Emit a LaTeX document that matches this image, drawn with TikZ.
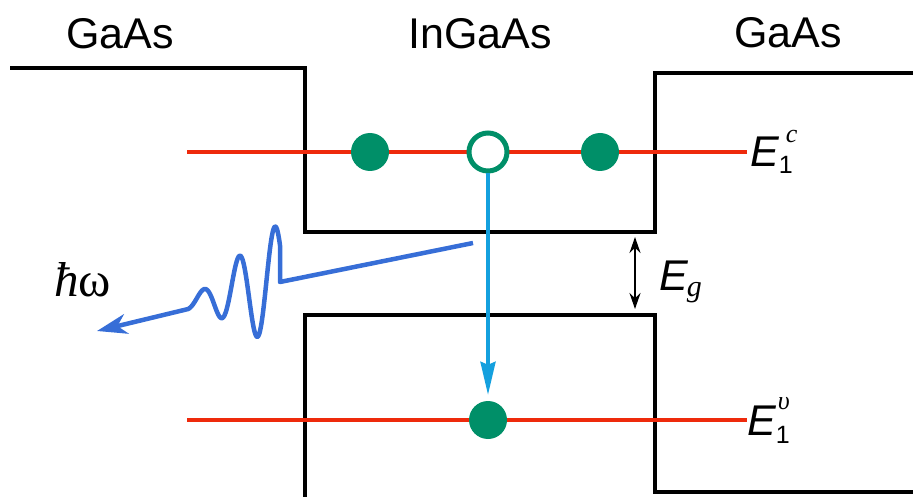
\documentclass[tikz,border=0pt]{standalone}
\usepackage{fontspec}
\setmainfont{Liberation Sans}
\newfontfamily\seriffont{Liberation Serif}
\usetikzlibrary{arrows.meta}

\definecolor{levelred}{RGB}{238,42,12}
\definecolor{dotgreen}{RGB}{0,143,104}
\definecolor{transblue}{RGB}{20,160,222}
\definecolor{photonblue}{RGB}{55,110,215}

\tikzset{
  band/.style={line width=4pt, line join=miter},
  level/.style={levelred, line width=4pt},
  electron/.style={circle, fill=dotgreen, minimum size=38pt, inner sep=0pt},
  hole/.style={circle, draw=dotgreen, fill=white, line width=5pt, minimum size=38pt, inner sep=0pt},
  lbl/.style={inner sep=0pt, anchor=base},
}
\newcommand{\scr}[1]{\fontsize{#1}{#1}\selectfont}
% E with subscript 1 and a serif italic superscript
\newcommand{\bandlbl}[4]{{\itshape E}\rlap{\raisebox{#1}{\scr{25}1}}\kern#2\raisebox{#3}{\scr{26}\seriffont\itshape #4}}

\begin{document}
\begin{tikzpicture}[x=1pt, y=-1pt, font=\fontsize{43}{50}\selectfont]
\useasboundingbox (0,0) rectangle (913,497);

% band edges
\draw[band] (10,68) -- (305,68) -- (305,232) -- (655,232) -- (655,73) -- (913,73);
\draw[band] (305,497) -- (305,315) -- (655,315) -- (655,492) -- (913,492);

% quantized levels
\draw[level] (187,152) -- (747,152);
\draw[level] (187,420) -- (747,420);

\node[electron] (ec1) at (370,152) {};
\node[hole] (hc) at (488,152) {};
\node[electron] (ec2) at (600,152) {};
\node[electron] (ev) at (488,420) {};

\draw[transblue, line width=3.5pt, -{Stealth[length=33pt, width=15pt, inset=3pt]}, shorten >=6pt] (hc.south) -- (ev.north);

% band gap
\coordinate (gtop) at (635,237);
\coordinate (gbot) at (635,309);
\draw[line width=2.2pt, {Stealth[length=16pt, width=11pt]}-{Stealth[length=16pt, width=11pt]}] (gtop) -- (gbot);

% emitted photon
\coordinate (emit) at (473,243);
\coordinate (ptip) at (97,331);
\draw[photonblue, line width=4.5pt, line join=round, -{Stealth[length=30pt, width=20pt, inset=9pt]}]
  (emit) -- (280,282)
  -- plot[domain=0:92, samples=150, variable=\s] ({280-\s}, {282+0.243*\s-57*exp(-(\s/60)^2)*sin(40+10*\s)})
  -- (ptip);

\node[lbl] (gaas1) at (120,49) {GaAs};
\node[lbl] (ingaas) at (480,49) {InGaAs};
\node[lbl] (gaas2) at (788,48) {GaAs};

\node[lbl, anchor=base west] (E1c) at (750,167) {\bandlbl{-7pt}{7pt}{24pt}{c}};
\node[lbl, anchor=base west] (E1v) at (747,435) {\bandlbl{-8pt}{2pt}{26pt}{υ}};
\node[lbl, anchor=base west] (Eg) at (659,290) {{\itshape E}\kern-1pt\raisebox{-6pt}{\scr{30}\seriffont\itshape g}};
\node[lbl, anchor=base west] (hw) at (54,296) {\fontsize{49}{50}\selectfont\seriffont{\itshape ħ}ω};
\end{tikzpicture}
\end{document}
